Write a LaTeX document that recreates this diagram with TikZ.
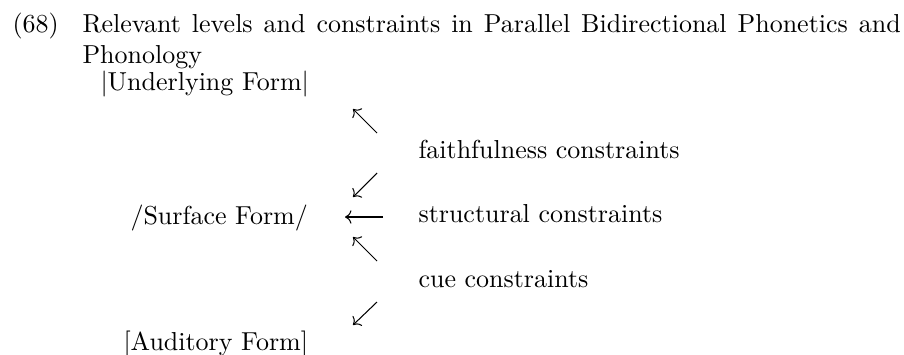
\documentclass[tikz,border=0pt]{standalone}
\usepackage{tikz}
\usetikzlibrary{positioning, arrows.meta}

\begin{document}
\begin{tikzpicture}[
    x=0.385pt, y=-0.385pt,
    txt/.style={anchor=base west, inner sep=0pt, font=\fontsize{10}{12}\selectfont},
    arr/.style={-{Computer Modern Rightarrow}, line width=0.4pt}
]
    \useasboundingbox (0,0) rectangle (904,354);

    % --- caption ---
    \node[txt] (num) at (12, 32) {(68)};
    \node[txt] (title) at (82, 32) {\makebox[315pt][s]{Relevant levels and constraints in Parallel Bidirectional Phonetics and}};
    \node[txt] (title2) at (82, 63) {Phonology};

    % --- levels ---
    \node[txt] (UF) at (100, 90) {$|$Underlying Form$|$};
    \node[txt] (SF) at (130, 224) {/Surface Form/};
    \node[txt] (AF) at (123, 350) {[Auditory Form]};

    % --- constraints ---
    \node[txt] (faith) at (418, 158) {faithfulness constraints};
    \node[txt] (struct) at (418, 222) {structural constraints};
    \node[txt] (cue) at (418, 287) {cue constraints};

    % --- arrow ends ---
    \coordinate (a1) at (377, 133); \coordinate (b1) at (353, 109);
    \coordinate (a2) at (377, 173); \coordinate (b2) at (353, 197);
    \coordinate (a3) at (383, 217); \coordinate (b3) at (345, 217);
    \coordinate (a4) at (377, 261); \coordinate (b4) at (353, 237);
    \coordinate (a5) at (377, 302); \coordinate (b5) at (353, 325);

    \foreach \i in {1,...,5}
        \draw[arr] (a\i) -- (b\i);
\end{tikzpicture}
\end{document}
